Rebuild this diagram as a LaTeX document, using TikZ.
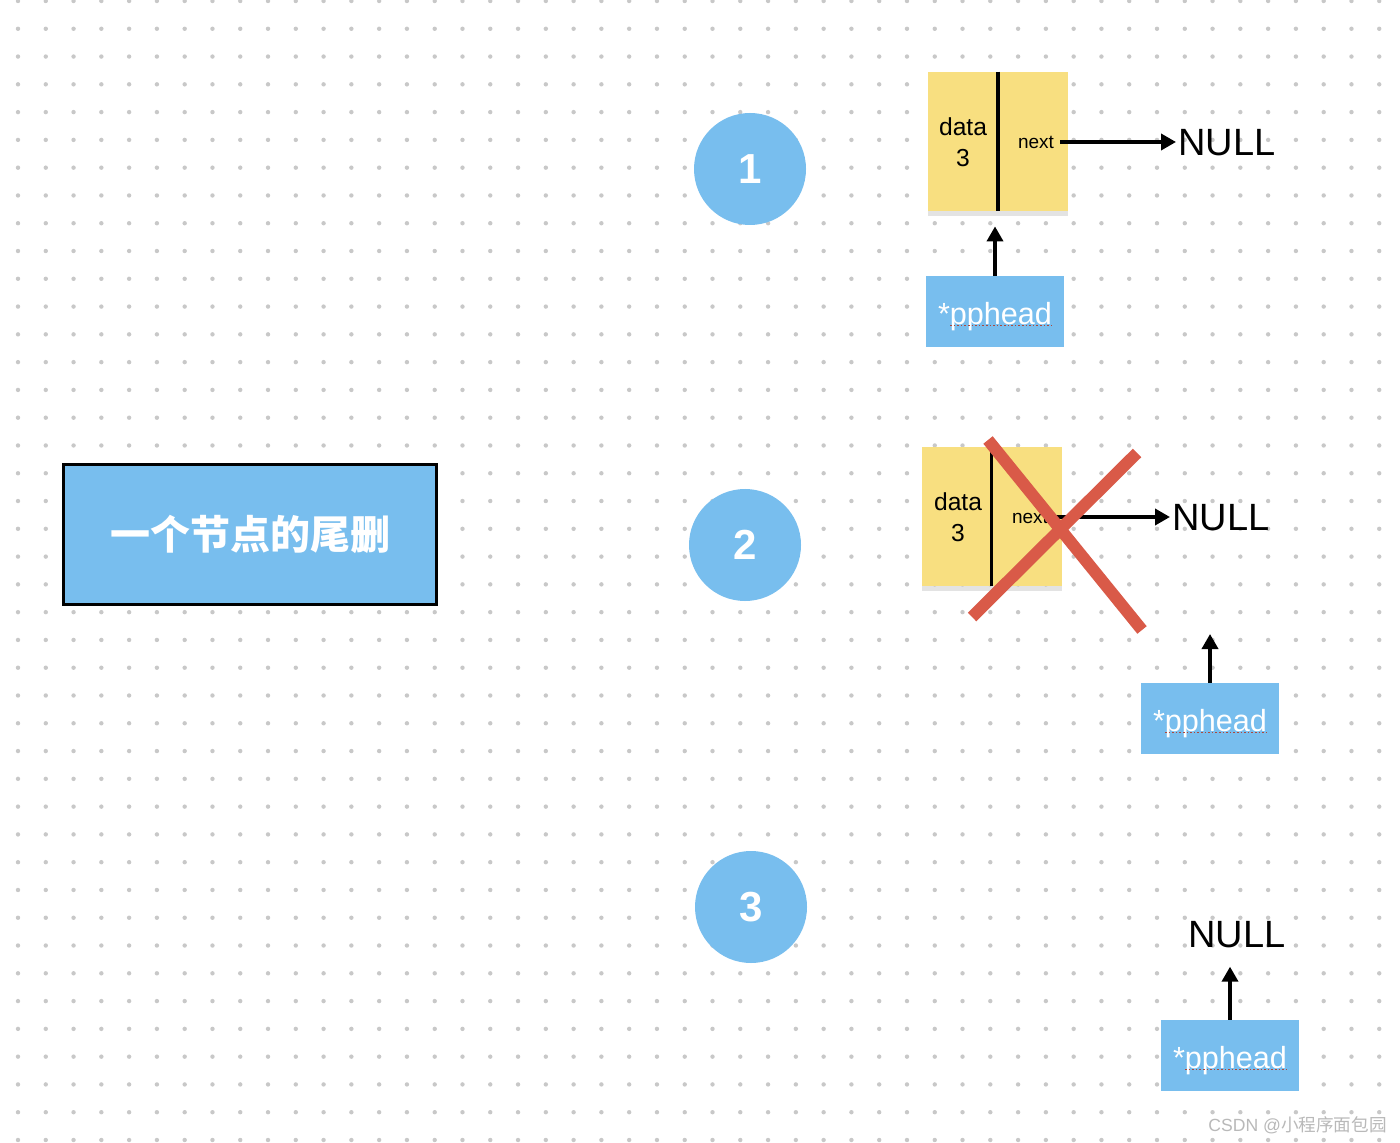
\documentclass[tikz,border=0pt]{standalone}
\usepackage{fontspec}
\setmainfont{Liberation Sans}
\newfontfamily\cjk{Noto Sans CJK SC}
\usetikzlibrary{arrows.meta,shadows,calc}
\definecolor{skyb}{RGB}{120,190,238}
\definecolor{sticky}{RGB}{248,223,128}
\definecolor{xred}{RGB}{217,90,72}
\definecolor{dotg}{RGB}{200,200,200}
\tikzset{
  arr/.style={line width=1.8pt,-{Triangle[length=7.5pt,width=8pt]}},
  circ/.style={circle,fill=skyb,minimum size=56pt,inner sep=0pt,text=white,font=\fontsize{21}{21}\selectfont\bfseries},
  stick/.style={fill=sticky,minimum width=70pt,minimum height=69.5pt,inner sep=0pt,
     drop shadow={opacity=0.22,shadow xshift=0pt,shadow yshift=-2.5pt}},
  divider/.style={line width=1.8pt},
  datat/.style={align=center,font=\fontsize{12.3}{15.5}\selectfont,inner sep=0pt},
  nextt/.style={font=\fontsize{9.5}{9.5}\selectfont,inner sep=3pt},
  nullt/.style={font=\fontsize{19}{19}\selectfont,inner sep=1pt},
  pp/.style={fill=skyb,minimum width=69pt,minimum height=35.5pt,inner sep=0pt,text=white,
     text height=12.8pt,text depth=0pt,font=\fontsize{15.3}{15.3}\selectfont},
  squig/.style={xred!80!black,densely dotted,line width=0.8pt},
  cross/.style={xred,line width=6pt},
}
\begin{document}
\begin{tikzpicture}[x=0.5pt,y=-0.5pt]
\useasboundingbox (0,0) rectangle (1400,1143);
\fill[white] (0,0) rectangle (1400,1143);
% dot grid
\foreach \i in {0,...,49}{
  \foreach \j in {0,...,41}{
    \fill[dotg] ({18+27.78*\i},{1+27.78*\j}) circle (1.1pt);
  }
}
% title
\node[draw=black,line width=1.5pt,fill=skyb,minimum width=186.5pt,minimum height=69.5pt,inner sep=0pt,text=white,font=\cjk\fontsize{20}{20}\selectfont\bfseries] (title) at (250,534.5) {一个节点的尾删};
% circles
\node[circ] (c1) at (750,169) {1};
\node[circ] (c2) at (745,545) {2};
\node[circ] (c3) at (751,907) {3};
% step 1
\node[stick] (n1) at (998,141.5) {};
\draw[divider] (n1.north) -- (n1.south);
\node[datat] (d1) at (963,142) {data\\3};
\node[nextt] (x1) at (1036,142) {next};
\node[nullt,anchor=west] (null1) at (1176,143) {NULL};
\draw[arr] (x1.east) -- (x1.east -| null1.west);
\node[pp] (pp1) at (995,311.5) {*pphead};
\draw[arr,shorten >=7.5pt] (pp1.north) -- (pp1.north |- n1.south);
\draw[squig] ($(pp1.center)+(-45,14)$) -- ($(pp1.center)+(56,14)$);
% step 2
\node[stick] (n2) at (991.5,516.5) {};
\draw[divider] (n2.north) -- (n2.south);
\node[datat] (d2) at (958,517) {data\\3};
\node[nextt] (x2) at (1030,517) {next};
\node[nullt,anchor=west] (null2) at (1170,518) {NULL};
\draw[arr] (x2.east) -- (x2.east -| null2.west);
\coordinate (x2a) at (988,440);
\coordinate (x2b) at (1142,630);
\coordinate (x2c) at (1137,453);
\coordinate (x2d) at (972,617);
\draw[cross] (x2a) -- (x2b);
\draw[cross] (x2c) -- (x2d);
\node[pp] (pp2) at (1210,718.5) {*pphead};
\coordinate (t2) at (1210,634);
\draw[arr] (pp2.north) -- (t2);
\draw[squig] ($(pp2.center)+(-45,14)$) -- ($(pp2.center)+(56,14)$);
% step 3
\node[nullt] (null3) at (1237,935) {NULL};
\node[pp] (pp3) at (1230,1055.5) {*pphead};
\draw[arr,shorten >=8pt] (pp3.north) -- (pp3.north |- null3.south);
\draw[squig] ($(pp3.center)+(-45,14)$) -- ($(pp3.center)+(56,14)$);
% watermark
\node[text=gray!55,font=\fontsize{8.8}{8.8}\selectfont,inner sep=0pt,anchor=east] (wm) at (1387,1125) {CSDN @{\cjk 小程序面包园}};
\end{tikzpicture}
\end{document}
